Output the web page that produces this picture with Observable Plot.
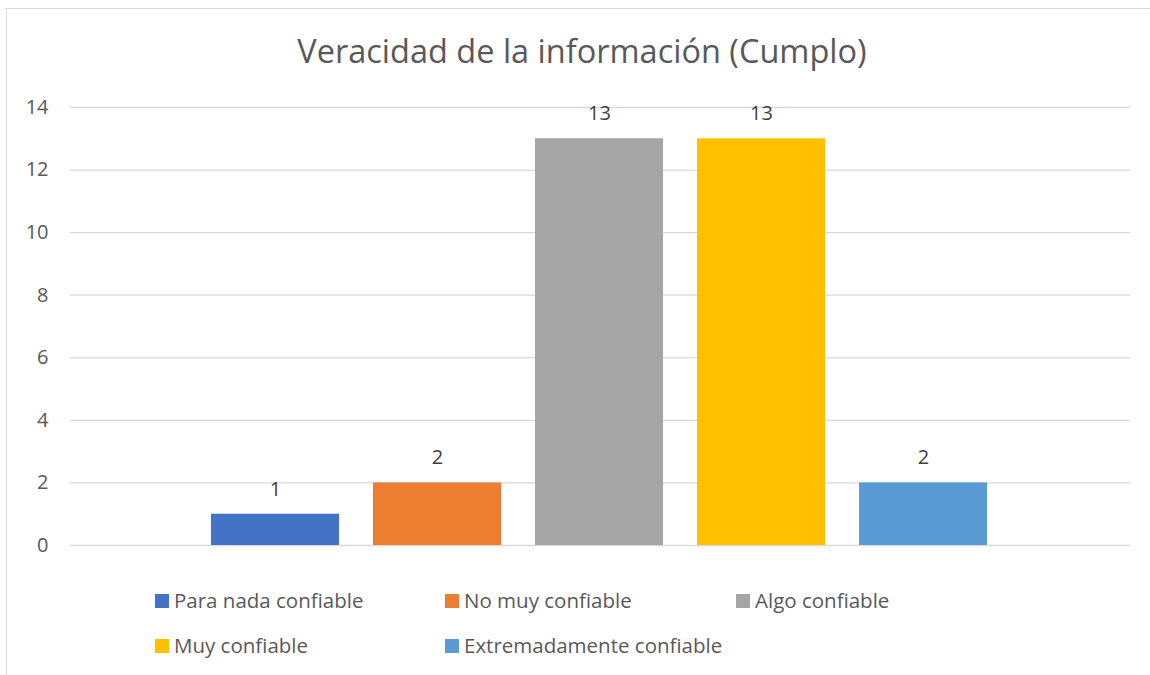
<!DOCTYPE html>
<html>
<head>
<meta charset="utf-8">
<script src="https://cdn.jsdelivr.net/npm/d3@7"></script>
<script src="https://cdn.jsdelivr.net/npm/@observablehq/plot@0.6"></script>
<style>
html, body { margin: 0; padding: 0; overflow: hidden; background: #fff; width: 1150px; height: 675px; }
body { font-family: "Open Sans", sans-serif; color: #595959; position: relative; }
#frame { position: absolute; left: 6px; top: 8px; width: 1160px; height: 700px; border: 1px solid #d9d9d9; box-sizing: border-box; pointer-events: none; }
#title { box-sizing: border-box; width: 1150px; height: 90px; padding-left: 14px; padding-top: 29px; line-height: 44px; font-size: 32.5px; text-align: center; color: #595959; white-space: nowrap; }
#chart svg { display: block; }
#legend { position: relative; width: 1150px; height: 105px; }
.item { position: absolute; height: 20px; line-height: 20px; font-size: 20.5px; color: #595959; white-space: nowrap; padding-left: 19px; }
.sw { position: absolute; left: 0; top: 4.5px; width: 14px; height: 14px; }
</style>
</head>
<body>
<div id="frame"></div>
<div id="title">Veracidad de la información (Cumplo)</div>
<div id="chart"></div>
<div id="legend"></div>
<script>
const categories = ["Para nada confiable", "No muy confiable", "Algo confiable", "Muy confiable", "Extremadamente confiable"];
const values = [1, 2, 13, 13, 2];
const colors = ["#4472C4", "#ED7D31", "#A5A5A5", "#FFC000", "#5B9BD5"];
const yTicks = [0, 2, 4, 6, 8, 10, 12, 14];

const data = categories.map((c, i) => ({category: c, value: values[i]}));

const chart = Plot.plot({
  width: 1150,
  height: 480,
  marginTop: 17,
  marginBottom: 25,
  marginLeft: 70,
  marginRight: 20,
  style: {fontFamily: "Open Sans, sans-serif", fontSize: "20px", color: "#595959", background: "#fff"},
  x: {domain: categories, range: [210, 988], paddingInner: 0.212, paddingOuter: 0, axis: null},
  y: {domain: [0, 14], ticks: yTicks, label: null},
  color: {domain: categories, range: colors},
  marks: [
    Plot.ruleY(yTicks, {stroke: "#d9d9d9", strokeWidth: 1.3}),
    Plot.axisY(yTicks, {tickSize: 0, tickPadding: 22, fontSize: 20, fill: "#595959", label: null}),
    Plot.barY(data, {x: "category", y: "value", fill: "category"}),
    Plot.text(data, {x: "category", y: "value", text: d => String(d.value), dy: -25, fill: "#404040", fontSize: 20})
  ]
});
document.getElementById("chart").appendChild(chart);

const legendPos = [[155, 19.5], [445, 19.5], [736, 19.5], [155, 64.5], [445, 64.5]];
const legend = document.getElementById("legend");
categories.forEach((c, i) => {
  const it = document.createElement("div");
  it.className = "item";
  it.style.left = legendPos[i][0] + "px";
  it.style.top = legendPos[i][1] + "px";
  const sw = document.createElement("span");
  sw.className = "sw";
  sw.style.background = colors[i];
  it.appendChild(sw);
  it.appendChild(document.createTextNode(c));
  legend.appendChild(it);
});
</script>
</body>
</html>
